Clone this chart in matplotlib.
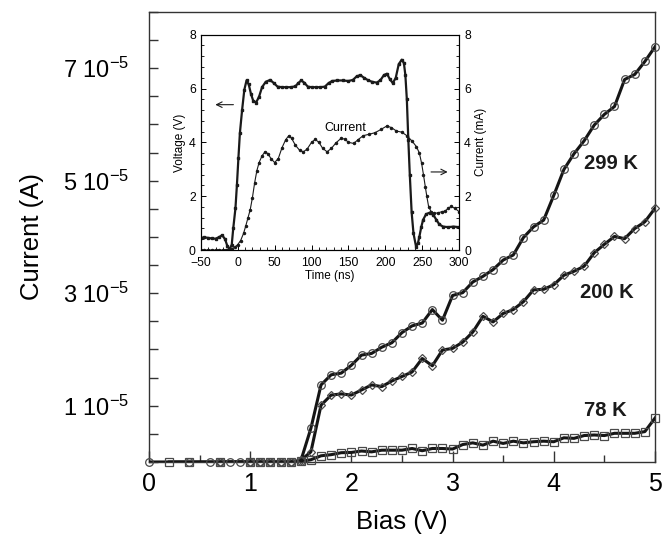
import numpy as np
import matplotlib
matplotlib.use("Agg")
import matplotlib.pyplot as plt
from matplotlib.ticker import MultipleLocator, FixedLocator

plt.rcParams['font.family'] = ['Liberation Sans', 'DejaVu Sans']
plt.rcParams['mathtext.fontset'] = 'custom'
plt.rcParams['mathtext.rm'] = 'Liberation Sans'
plt.rcParams['mathtext.it'] = 'Liberation Sans'
plt.rcParams['mathtext.bf'] = 'Liberation Sans:bold'

# ---------------- main data (current in units of 1e-5 A) ----------------
bias_hi = [1.0, 1.1, 1.2, 1.3, 1.4, 1.5, 1.6, 1.7, 1.8, 1.9,
           2.0, 2.1, 2.2, 2.3, 2.4, 2.5, 2.6, 2.7, 2.8, 2.9,
           3.0, 3.1, 3.2, 3.3, 3.4, 3.5, 3.6, 3.7, 3.8, 3.9,
           4.0, 4.1, 4.2, 4.3, 4.4, 4.5, 4.6, 4.7, 4.8, 4.9, 5.0]

bias_299_lo = [0.0, 0.4, 0.6, 0.7, 0.8, 0.9]
cur_299_lo = [0, 0, 0, 0, 0, 0]
cur_299_hi = [0, 0, 0, 0, 0, 0.02, 0.60, 1.37, 1.55, 1.58,
              1.72, 1.90, 1.93, 2.04, 2.12, 2.30, 2.42, 2.47, 2.71, 2.52,
              2.96, 3.01, 3.20, 3.30, 3.42, 3.59, 3.68, 3.99, 4.18, 4.30,
              4.74, 5.20, 5.48, 5.71, 5.99, 6.18, 6.32, 6.80, 6.89, 7.12, 7.38]

bias_200_lo = [0.7]
cur_200_lo = [0]
cur_200_hi = [0, 0, 0, 0, 0, 0.03, 0.18, 1.01, 1.19, 1.21,
              1.19, 1.28, 1.37, 1.34, 1.44, 1.52, 1.60, 1.84, 1.71, 1.99,
              2.02, 2.13, 2.31, 2.59, 2.49, 2.64, 2.71, 2.85, 3.06, 3.07,
              3.15, 3.32, 3.39, 3.48, 3.72, 3.87, 4.01, 3.97, 4.15, 4.27, 4.51]

bias_78_lo = [0.2, 0.4, 0.7]
cur_78_lo = [0, 0, 0]
cur_78_hi = [0, 0, 0, 0, 0, 0.01, 0.04, 0.11, 0.13, 0.165,
             0.17, 0.195, 0.18, 0.21, 0.21, 0.21, 0.24, 0.20, 0.24, 0.24,
             0.23, 0.31, 0.34, 0.30, 0.37, 0.33, 0.37, 0.34, 0.36, 0.37,
             0.36, 0.43, 0.42, 0.47, 0.48, 0.47, 0.51, 0.51, 0.51, 0.54, 0.78]

series_labels = ["299 K", "200 K", "78 K"]
label_pos = [(4.56, 5.31), (4.52, 3.02), (4.51, 0.92)]

ytick_vals = [1, 3, 5, 7]
xtick_vals = [0, 1, 2, 3, 4, 5]

# ---------------- inset data ----------------
t_volt = [-50, -45, -40, -35, -30, -25, -21, -17, -14, -11, -8, -6, -3, -1, 1, 3, 6, 9,
          12, 15, 18, 21, 25, 29, 33, 38, 44, 49, 54, 60, 66, 72, 78, 82, 86, 90, 95,
          100, 106, 112, 118, 123, 128, 135, 142, 150, 156, 161, 166, 171, 177, 182,
          188, 193, 198, 202, 206, 210, 214, 218, 222, 225, 227, 229, 231, 233, 235.5,
          238, 241.5, 244, 246, 248.5, 251, 255, 260, 265, 269, 273, 278, 285, 292, 300]
volt = [0.45, 0.47, 0.45, 0.43, 0.42, 0.48, 0.55, 0.4, 0.15, 0.02, 0.2, 0.8, 1.55, 2.42,
        3.41, 4.34, 5.2, 5.95, 6.3, 6.15, 5.8, 5.55, 5.48, 5.7, 6.05, 6.25, 6.32, 6.2,
        6.07, 6.05, 6.05, 6.05, 6.08, 6.2, 6.3, 6.22, 6.07, 6.05, 6.05, 6.05, 6.07, 6.2,
        6.28, 6.3, 6.3, 6.28, 6.32, 6.45, 6.5, 6.4, 6.3, 6.25, 6.22, 6.3, 6.5, 6.55,
        6.35, 6.2, 6.4, 6.9, 7.07, 6.95, 6.5, 5.6, 4.1, 2.8, 1.4, 0.62, 0.12, 0.25, 0.5,
        0.85, 1.12, 1.33, 1.39, 1.3, 1.12, 0.95, 0.87, 0.85, 0.87, 0.85]

t_cur = [-50, -45, -40, -35, -30, -25, -20, -16, -12, -8, -4, 0, 4, 8, 11, 14, 17, 20, 23,
         26, 29, 33, 37, 41, 45, 50, 55, 60, 65, 69, 73, 78, 84, 89, 94, 100, 105,
         110, 115, 121, 127, 133, 140, 145, 150, 157, 163, 170, 178, 186, 194, 202,
         208, 215, 222, 229, 236, 242, 246, 249, 251.5, 254, 256, 258.5, 262, 266,
         271, 276, 281, 285, 289, 294, 300]
cur_ma = [0, 0, 0, 0, 0, 0, 0, 0.01, 0.02, 0.05, 0.1, 0.2, 0.35, 0.62, 0.9, 1.2, 1.5,
          1.95, 2.5, 2.95, 3.25, 3.5, 3.65, 3.58, 3.4, 3.25, 3.4, 3.8, 4.1, 4.24, 4.15,
          3.9, 3.7, 3.65, 3.75, 4.0, 4.11, 4.0, 3.78, 3.65, 3.78, 3.98, 4.15, 4.12, 4.0,
          3.96, 4.1, 4.25, 4.3, 4.36, 4.48, 4.61, 4.55, 4.42, 4.38, 4.25, 4.05, 3.84,
          3.6, 3.22, 2.8, 2.35, 2.0, 1.61, 1.42, 1.36, 1.38, 1.42, 1.45, 1.55, 1.62,
          1.55, 1.42]

# ---------------- figure ----------------
fig = plt.figure(figsize=(6.64, 5.38), dpi=100)
ax = fig.add_axes([0.2244, 0.1413, 0.9864 - 0.2244, 0.9777 - 0.1413])

line_kw = dict(color='#151515', lw=2.2, solid_joinstyle='round')
mk_kw = dict(mfc='none', mec='#4a4a4a', mew=0.9, ls='none', clip_on=False, zorder=4)

specs = [
    (bias_299_lo, cur_299_lo, cur_299_hi, 'o', 5.5),
    (bias_200_lo, cur_200_lo, cur_200_hi, 'D', 3.6),
    (bias_78_lo, cur_78_lo, cur_78_hi, 's', 5.2),
]
for blo, clo, chi, m, ms in specs:
    b = np.array(blo + bias_hi)
    c = np.array(clo + chi) * 1e-5
    ax.plot(b, c, **line_kw, zorder=3)
    ax.plot(b, c, marker=m, ms=ms, **mk_kw)

for lab, (px, py) in zip(series_labels, label_pos):
    ax.text(px, py * 1e-5, lab, fontsize=14.5, fontweight='bold', ha='center',
            va='center', color='#1a1a1a')

ax.set_xlim(0, 5)
ax.set_ylim(0, 8e-5)
ax.xaxis.set_major_locator(FixedLocator(xtick_vals))
ax.xaxis.set_minor_locator(MultipleLocator(0.5))
ax.yaxis.set_major_locator(FixedLocator([v * 1e-5 for v in ytick_vals]))
ax.yaxis.set_minor_locator(MultipleLocator(0.5e-5))
ax.set_xticklabels([str(v) for v in xtick_vals])
ax.set_yticklabels([f"{v} 10$^{{-5}}$" for v in ytick_vals])
ax.tick_params(axis='x', which='major', direction='in', length=8, width=1,
               labelsize=18, pad=7, color='#333333')
ax.tick_params(axis='x', which='minor', direction='in', length=5, width=1, color='#333333')
ax.tick_params(axis='y', which='both', direction='in', length=6.5, width=1,
               labelsize=17, pad=14, color='#333333')
for s in ax.spines.values():
    s.set_linewidth(1.0)
    s.set_color('#333333')
ax.set_xlabel("Bias (V)", fontsize=18.5, labelpad=10)
ax.set_ylabel("Current (A)", fontsize=18.5, labelpad=14)

# ---------------- inset ----------------
ins = fig.add_axes([0.3023, 0.5353, 0.6917 - 0.3023, 0.9355 - 0.5353])
ins.set_facecolor('white')
ins.plot(t_volt, volt, color='#1a1a1a', lw=1.6, marker='s', ms=1.9,
         mfc='#1a1a1a', mec='#1a1a1a')
ins.plot(t_cur, cur_ma, color='#1a1a1a', lw=0.8, marker='o', ms=1.5,
         mfc='#1a1a1a', mec='#1a1a1a')
ins.set_xlim(-50, 300)
ins.set_ylim(0, 8)
ins.xaxis.set_major_locator(MultipleLocator(50))
ins.xaxis.set_minor_locator(MultipleLocator(10))
ins.yaxis.set_major_locator(MultipleLocator(2))
ins.yaxis.set_minor_locator(MultipleLocator(0.4))
ins.tick_params(which='major', direction='in', length=3.5, width=0.7, labelsize=8.8)
ins.tick_params(axis='x', which='major', pad=5)
ins.tick_params(axis='y', which='major', pad=3.5)
ins.tick_params(which='minor', direction='in', length=2, width=0.6)
ins.set_xlabel("Time (ns)", fontsize=8.5, labelpad=1)
ins.set_ylabel("Voltage (V)", fontsize=8.5, labelpad=2)
for s in ins.spines.values():
    s.set_linewidth(0.8)

ins2 = ins.twinx()
ins2.set_ylim(0, 8)
ins2.yaxis.set_major_locator(MultipleLocator(2))
ins2.yaxis.set_minor_locator(MultipleLocator(0.4))
ins2.tick_params(which='major', direction='in', length=3.5, width=0.7, labelsize=8.8, pad=3.5)
ins2.tick_params(which='minor', direction='in', length=2, width=0.6)
ins2.set_ylabel("Current (mA)", fontsize=8.5, labelpad=3)

ins.text(146, 4.55, "Current", fontsize=9, ha='center', va='center')
ins.annotate("", xy=(-34, 5.4), xytext=(-2, 5.4),
             arrowprops=dict(arrowstyle='->', lw=0.8, color='#1a1a1a'))
ins.annotate("", xy=(288, 2.9), xytext=(258, 2.9),
             arrowprops=dict(arrowstyle='->', lw=0.8, color='#1a1a1a'))

fig.savefig("out.png", dpi=100)
